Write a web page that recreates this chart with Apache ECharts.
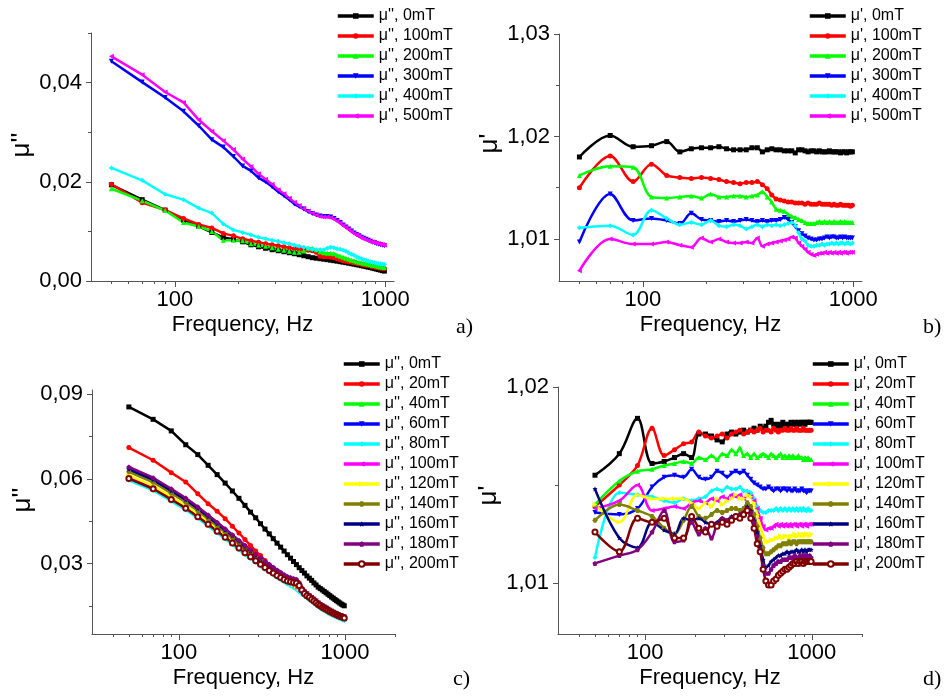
<!DOCTYPE html>
<html>
<head>
<meta charset="utf-8">
<script src="https://cdn.jsdelivr.net/npm/echarts@6/dist/echarts.min.js"></script>
<style>
  html, body { margin: 0; padding: 0; background: #fff; }
  #chart { width: 950px; height: 696px; }
</style>
</head>
<body>
<div id="chart"></div>
<script>
// Measurement frequencies, Hz
const freq = [50,70,90,110,130,150,170,190,210,230,250,270,290,310,330,350,370,390,410,430,450,470,490,510,530,550,570,590,610,630,650,670,690,710,730,750,770,790,810,830,850,870,890,910,930,950,970,990];

// Tick values
const xMajor = [100, 1000];
const xMinorAB = [50,60,70,80,90,200,300,400,500,600,700,800,900];
const xMinorCD = [40,50,60,70,80,90,200,300,400,500,600,700,800,900,2000];
const yMajorA = [0, 0.02, 0.04];      const yMinorA = [0.01, 0.03, 0.05];
const yMajorB = [1.01, 1.02, 1.03];   const yMinorB = [1.015, 1.025];
const yMajorC = [0.03, 0.06, 0.09];   const yMinorC = [0.015, 0.045, 0.075];
const yMajorD = [1.01, 1.02];         const yMinorD = [1.015];

// (a) imaginary part, 0–500 mT
const a0   = [0.0194,0.0164,0.0143,0.0123,0.0110,0.0098,0.0088,0.0084,0.0079,0.0073,0.0069,0.0066,0.0063,0.0061,0.0059,0.0057,0.0055,0.0053,0.0051,0.0049,0.0047,0.0046,0.0045,0.0044,0.0043,0.0042,0.0041,0.0040,0.0039,0.0038,0.0037,0.0036,0.0035,0.0034,0.0033,0.0032,0.0031,0.0030,0.0029,0.0028,0.0027,0.0026,0.0025,0.0024,0.0023,0.0022,0.0021,0.0020];
const a100 = [0.0195,0.0158,0.0143,0.0126,0.0114,0.0107,0.0096,0.0091,0.0085,0.0081,0.0078,0.0075,0.0073,0.0071,0.0069,0.0067,0.0065,0.0064,0.0063,0.0062,0.0061,0.0058,0.0050,0.0049,0.0049,0.0048,0.0047,0.0045,0.0043,0.0041,0.0040,0.0039,0.0038,0.0037,0.0036,0.0035,0.0034,0.0033,0.0032,0.0031,0.0030,0.0029,0.0028,0.0027,0.0026,0.0026,0.0025,0.0025];
const a200 = [0.0186,0.0162,0.0142,0.0118,0.0110,0.0100,0.0082,0.0082,0.0081,0.0075,0.0072,0.0070,0.0067,0.0064,0.0062,0.0060,0.0058,0.0058,0.0061,0.0066,0.0066,0.0063,0.0059,0.0057,0.0056,0.0056,0.0055,0.0052,0.0050,0.0048,0.0046,0.0044,0.0042,0.0041,0.0039,0.0038,0.0037,0.0036,0.0035,0.0034,0.0033,0.0032,0.0031,0.0030,0.0029,0.0028,0.0028,0.0027];
const a300 = [0.0443,0.0401,0.0370,0.0342,0.0313,0.0285,0.0270,0.0251,0.0232,0.0222,0.0208,0.0200,0.0190,0.0180,0.0172,0.0164,0.0155,0.0150,0.0145,0.0140,0.0136,0.0133,0.0131,0.0130,0.0130,0.0129,0.0126,0.0122,0.0118,0.0113,0.0109,0.0105,0.0101,0.0097,0.0094,0.0091,0.0088,0.0086,0.0084,0.0082,0.0080,0.0078,0.0077,0.0075,0.0074,0.0073,0.0072,0.0071];
const a400 = [0.0228,0.0203,0.0175,0.0164,0.0147,0.0137,0.0115,0.0103,0.0098,0.0093,0.0088,0.0085,0.0082,0.0080,0.0077,0.0075,0.0072,0.0070,0.0068,0.0066,0.0064,0.0063,0.0063,0.0063,0.0066,0.0068,0.0067,0.0065,0.0064,0.0062,0.0060,0.0057,0.0054,0.0052,0.0049,0.0047,0.0045,0.0043,0.0042,0.0040,0.0039,0.0038,0.0037,0.0036,0.0035,0.0035,0.0034,0.0034];
const a500 = [0.0453,0.0416,0.0381,0.0360,0.0325,0.0302,0.0283,0.0265,0.0246,0.0231,0.0216,0.0205,0.0195,0.0184,0.0176,0.0167,0.0159,0.0152,0.0146,0.0141,0.0137,0.0133,0.0130,0.0129,0.0129,0.0128,0.0125,0.0121,0.0117,0.0112,0.0108,0.0104,0.0100,0.0096,0.0093,0.0090,0.0087,0.0085,0.0083,0.0081,0.0079,0.0078,0.0077,0.0076,0.0075,0.0074,0.0073,0.0072];

// (b) real part, 0–500 mT
const b0   = [1.0180,1.0201,1.0190,1.0191,1.0195,1.0185,1.0188,1.0189,1.0189,1.0190,1.0188,1.0187,1.0187,1.0187,1.0189,1.0189,1.0185,1.0187,1.0188,1.0187,1.0187,1.0186,1.0186,1.0186,1.0184,1.0187,1.0187,1.0186,1.0185,1.0186,1.0186,1.0185,1.0186,1.0185,1.0185,1.0185,1.0186,1.0185,1.0185,1.0185,1.0185,1.0184,1.0185,1.0185,1.0184,1.0185,1.0185,1.0185];
const b100 = [1.0150,1.0181,1.0156,1.0173,1.0162,1.0160,1.0159,1.0160,1.0159,1.0158,1.0156,1.0155,1.0154,1.0155,1.0155,1.0156,1.0153,1.0149,1.0143,1.0139,1.0138,1.0137,1.0136,1.0136,1.0135,1.0135,1.0135,1.0134,1.0135,1.0134,1.0134,1.0134,1.0135,1.0134,1.0134,1.0134,1.0134,1.0133,1.0134,1.0133,1.0133,1.0134,1.0133,1.0133,1.0133,1.0133,1.0132,1.0133];
const b200 = [1.0162,1.0171,1.0170,1.0141,1.0140,1.0141,1.0142,1.0140,1.0144,1.0141,1.0141,1.0142,1.0142,1.0141,1.0142,1.0143,1.0146,1.0141,1.0136,1.0129,1.0128,1.0127,1.0124,1.0122,1.0121,1.0119,1.0118,1.0116,1.0115,1.0115,1.0115,1.0116,1.0117,1.0116,1.0117,1.0116,1.0117,1.0116,1.0117,1.0116,1.0116,1.0117,1.0116,1.0117,1.0116,1.0116,1.0116,1.0116];
const b300 = [1.0097,1.0144,1.0118,1.0120,1.0118,1.0115,1.0125,1.0119,1.0118,1.0117,1.0118,1.0117,1.0118,1.0119,1.0118,1.0117,1.0118,1.0117,1.0118,1.0118,1.0119,1.0121,1.0119,1.0116,1.0112,1.0108,1.0105,1.0103,1.0101,1.0100,1.0099,1.0099,1.0100,1.0100,1.0101,1.0102,1.0101,1.0102,1.0102,1.0101,1.0101,1.0102,1.0101,1.0102,1.0101,1.0101,1.0101,1.0101];
const b400 = [1.0111,1.0113,1.0104,1.0128,1.0120,1.0114,1.0116,1.0114,1.0118,1.0113,1.0112,1.0114,1.0113,1.0110,1.0112,1.0114,1.0112,1.0114,1.0113,1.0114,1.0113,1.0114,1.0115,1.0116,1.0113,1.0106,1.0100,1.0098,1.0094,1.0093,1.0093,1.0094,1.0094,1.0095,1.0094,1.0095,1.0095,1.0096,1.0095,1.0096,1.0095,1.0096,1.0096,1.0095,1.0096,1.0096,1.0095,1.0096];
const b500 = [1.0069,1.0100,1.0095,1.0095,1.0097,1.0094,1.0092,1.0101,1.0097,1.0100,1.0097,1.0096,1.0096,1.0097,1.0096,1.0101,1.0093,1.0095,1.0096,1.0097,1.0098,1.0099,1.0100,1.0102,1.0101,1.0096,1.0093,1.0090,1.0087,1.0085,1.0084,1.0085,1.0086,1.0086,1.0087,1.0086,1.0087,1.0086,1.0087,1.0086,1.0087,1.0086,1.0087,1.0087,1.0086,1.0087,1.0087,1.0087];

// (c) imaginary part, 0–200 mT
const c0   = [0.0855,0.0811,0.0770,0.0721,0.0686,0.0648,0.0615,0.0585,0.0557,0.0531,0.0506,0.0482,0.0462,0.0441,0.0422,0.0405,0.0388,0.0372,0.0358,0.0344,0.0331,0.0319,0.0307,0.0296,0.0285,0.0275,0.0266,0.0256,0.0248,0.0240,0.0231,0.0224,0.0216,0.0211,0.0206,0.0201,0.0196,0.0191,0.0186,0.0181,0.0177,0.0172,0.0168,0.0164,0.0160,0.0156,0.0153,0.0150];
const c20  = [0.0711,0.0666,0.0622,0.0589,0.0547,0.0512,0.0485,0.0459,0.0432,0.0408,0.0385,0.0364,0.0344,0.0328,0.0311,0.0295,0.0281,0.0267,0.0256,0.0248,0.0241,0.0234,0.0227,0.0220,0.0212,0.0204,0.0197,0.0190,0.0183,0.0176,0.0170,0.0164,0.0158,0.0153,0.0148,0.0144,0.0140,0.0136,0.0132,0.0129,0.0126,0.0123,0.0120,0.0117,0.0115,0.0113,0.0111,0.0109];
const c40  = [0.0632,0.0594,0.0556,0.0523,0.0493,0.0464,0.0439,0.0416,0.0396,0.0376,0.0358,0.0343,0.0328,0.0315,0.0302,0.0291,0.0281,0.0271,0.0263,0.0255,0.0247,0.0240,0.0233,0.0225,0.0217,0.0209,0.0202,0.0194,0.0187,0.0180,0.0174,0.0168,0.0162,0.0156,0.0151,0.0147,0.0143,0.0139,0.0135,0.0132,0.0129,0.0125,0.0122,0.0120,0.0117,0.0115,0.0113,0.0111];
const c60  = [0.0628,0.0591,0.0552,0.0520,0.0489,0.0461,0.0436,0.0413,0.0393,0.0374,0.0356,0.0341,0.0326,0.0313,0.0301,0.0289,0.0279,0.0270,0.0262,0.0253,0.0246,0.0239,0.0231,0.0224,0.0216,0.0208,0.0200,0.0193,0.0186,0.0179,0.0173,0.0167,0.0160,0.0155,0.0150,0.0146,0.0142,0.0138,0.0134,0.0131,0.0127,0.0124,0.0121,0.0119,0.0116,0.0114,0.0112,0.0110];
const c80  = [0.0595,0.0559,0.0521,0.0490,0.0460,0.0433,0.0408,0.0387,0.0367,0.0348,0.0332,0.0317,0.0304,0.0291,0.0279,0.0268,0.0259,0.0250,0.0242,0.0234,0.0227,0.0220,0.0214,0.0207,0.0199,0.0191,0.0184,0.0177,0.0170,0.0164,0.0158,0.0152,0.0146,0.0141,0.0136,0.0132,0.0128,0.0124,0.0120,0.0117,0.0115,0.0112,0.0109,0.0107,0.0104,0.0102,0.0100,0.0098];
const c100 = [0.0605,0.0568,0.0530,0.0498,0.0469,0.0441,0.0416,0.0394,0.0374,0.0355,0.0339,0.0324,0.0310,0.0297,0.0285,0.0274,0.0264,0.0255,0.0248,0.0240,0.0233,0.0226,0.0219,0.0212,0.0204,0.0196,0.0189,0.0182,0.0176,0.0169,0.0163,0.0157,0.0151,0.0146,0.0141,0.0137,0.0133,0.0129,0.0125,0.0123,0.0120,0.0117,0.0114,0.0112,0.0109,0.0107,0.0105,0.0103];
const c120 = [0.0612,0.0575,0.0537,0.0505,0.0475,0.0447,0.0422,0.0401,0.0381,0.0362,0.0345,0.0330,0.0316,0.0303,0.0291,0.0280,0.0270,0.0261,0.0254,0.0246,0.0239,0.0232,0.0225,0.0218,0.0210,0.0202,0.0195,0.0188,0.0181,0.0174,0.0168,0.0162,0.0157,0.0152,0.0147,0.0143,0.0139,0.0135,0.0131,0.0128,0.0125,0.0122,0.0119,0.0117,0.0114,0.0112,0.0110,0.0108];
const c140 = [0.0625,0.0588,0.0549,0.0517,0.0487,0.0458,0.0433,0.0411,0.0390,0.0371,0.0354,0.0338,0.0324,0.0311,0.0299,0.0287,0.0277,0.0268,0.0260,0.0252,0.0245,0.0237,0.0230,0.0223,0.0215,0.0207,0.0199,0.0192,0.0185,0.0178,0.0172,0.0166,0.0160,0.0154,0.0149,0.0145,0.0141,0.0137,0.0133,0.0130,0.0127,0.0123,0.0120,0.0118,0.0115,0.0113,0.0111,0.0109];
const c160 = [0.0635,0.0597,0.0558,0.0526,0.0495,0.0466,0.0441,0.0418,0.0398,0.0378,0.0360,0.0345,0.0330,0.0317,0.0304,0.0293,0.0283,0.0274,0.0266,0.0258,0.0251,0.0247,0.0244,0.0241,0.0230,0.0212,0.0201,0.0193,0.0187,0.0180,0.0174,0.0168,0.0161,0.0156,0.0151,0.0147,0.0143,0.0139,0.0135,0.0131,0.0128,0.0125,0.0122,0.0120,0.0117,0.0115,0.0113,0.0111];
const c180 = [0.0642,0.0604,0.0565,0.0532,0.0501,0.0472,0.0446,0.0423,0.0402,0.0382,0.0365,0.0349,0.0334,0.0321,0.0308,0.0297,0.0287,0.0277,0.0269,0.0261,0.0254,0.0250,0.0247,0.0244,0.0233,0.0214,0.0202,0.0194,0.0188,0.0181,0.0175,0.0168,0.0162,0.0157,0.0152,0.0148,0.0144,0.0140,0.0136,0.0132,0.0129,0.0126,0.0123,0.0121,0.0118,0.0116,0.0114,0.0112];
const c200 = [0.0601,0.0565,0.0527,0.0496,0.0466,0.0439,0.0414,0.0393,0.0373,0.0355,0.0338,0.0324,0.0310,0.0297,0.0286,0.0275,0.0266,0.0257,0.0250,0.0243,0.0238,0.0235,0.0233,0.0231,0.0222,0.0206,0.0194,0.0186,0.0180,0.0173,0.0167,0.0161,0.0155,0.0150,0.0145,0.0141,0.0138,0.0134,0.0130,0.0127,0.0124,0.0121,0.0118,0.0116,0.0113,0.0111,0.0109,0.0107];

// (d) real part, 0–200 mT
const d0   = [1.0155,1.0166,1.0184,1.0161,1.0162,1.0164,1.0166,1.0164,1.0176,1.0176,1.0175,1.0173,1.0172,1.0176,1.0177,1.0176,1.0177,1.0178,1.0177,1.0178,1.0179,1.0178,1.0180,1.0179,1.0180,1.0182,1.0183,1.0181,1.0180,1.0181,1.0180,1.0182,1.0181,1.0180,1.0181,1.0182,1.0181,1.0182,1.0181,1.0182,1.0181,1.0182,1.0182,1.0181,1.0182,1.0182,1.0182,1.0182];
const d20  = [1.0139,1.0150,1.0160,1.0179,1.0165,1.0168,1.0171,1.0172,1.0177,1.0175,1.0174,1.0175,1.0176,1.0174,1.0176,1.0177,1.0178,1.0176,1.0177,1.0178,1.0177,1.0178,1.0179,1.0177,1.0178,1.0178,1.0177,1.0179,1.0178,1.0177,1.0178,1.0178,1.0179,1.0178,1.0178,1.0179,1.0178,1.0178,1.0179,1.0178,1.0178,1.0178,1.0179,1.0178,1.0178,1.0178,1.0178,1.0178];
const d40  = [1.0140,1.0152,1.0157,1.0158,1.0160,1.0161,1.0162,1.0161,1.0164,1.0163,1.0165,1.0163,1.0166,1.0165,1.0168,1.0166,1.0169,1.0165,1.0166,1.0164,1.0166,1.0164,1.0165,1.0166,1.0165,1.0164,1.0166,1.0165,1.0164,1.0165,1.0166,1.0164,1.0165,1.0164,1.0165,1.0164,1.0165,1.0164,1.0164,1.0165,1.0164,1.0164,1.0163,1.0164,1.0163,1.0164,1.0163,1.0163];
const d60  = [1.0136,1.0135,1.0138,1.0149,1.0154,1.0155,1.0154,1.0158,1.0154,1.0153,1.0154,1.0157,1.0156,1.0154,1.0156,1.0157,1.0156,1.0157,1.0155,1.0153,1.0151,1.0150,1.0149,1.0148,1.0148,1.0149,1.0148,1.0147,1.0148,1.0148,1.0147,1.0148,1.0148,1.0147,1.0148,1.0147,1.0147,1.0148,1.0147,1.0147,1.0147,1.0148,1.0147,1.0147,1.0146,1.0147,1.0147,1.0147];
const d80  = [1.0113,1.0146,1.0145,1.0144,1.0142,1.0141,1.0143,1.0142,1.0143,1.0144,1.0147,1.0148,1.0147,1.0149,1.0148,1.0148,1.0149,1.0147,1.0147,1.0146,1.0143,1.0139,1.0137,1.0136,1.0136,1.0137,1.0137,1.0137,1.0138,1.0137,1.0138,1.0137,1.0138,1.0137,1.0138,1.0137,1.0138,1.0137,1.0138,1.0137,1.0138,1.0137,1.0138,1.0137,1.0137,1.0138,1.0137,1.0137];
const d100 = [1.0138,1.0142,1.0150,1.0137,1.0138,1.0139,1.0138,1.0141,1.0142,1.0141,1.0143,1.0142,1.0144,1.0143,1.0145,1.0144,1.0145,1.0143,1.0145,1.0144,1.0142,1.0138,1.0133,1.0129,1.0127,1.0128,1.0128,1.0129,1.0130,1.0129,1.0130,1.0129,1.0130,1.0129,1.0130,1.0129,1.0130,1.0130,1.0129,1.0130,1.0130,1.0129,1.0130,1.0130,1.0129,1.0130,1.0130,1.0130];
const d120 = [1.0140,1.0131,1.0145,1.0143,1.0143,1.0143,1.0143,1.0141,1.0138,1.0141,1.0139,1.0143,1.0140,1.0142,1.0143,1.0145,1.0143,1.0143,1.0145,1.0144,1.0141,1.0135,1.0129,1.0124,1.0121,1.0121,1.0122,1.0122,1.0123,1.0123,1.0124,1.0123,1.0124,1.0124,1.0123,1.0124,1.0124,1.0125,1.0124,1.0124,1.0125,1.0124,1.0125,1.0124,1.0125,1.0125,1.0124,1.0125];
const d140 = [1.0132,1.0140,1.0137,1.0134,1.0128,1.0125,1.0132,1.0139,1.0134,1.0133,1.0135,1.0137,1.0136,1.0137,1.0138,1.0138,1.0137,1.0138,1.0141,1.0139,1.0135,1.0129,1.0123,1.0118,1.0115,1.0115,1.0116,1.0117,1.0118,1.0119,1.0119,1.0120,1.0120,1.0120,1.0121,1.0120,1.0121,1.0121,1.0120,1.0121,1.0121,1.0121,1.0121,1.0121,1.0121,1.0121,1.0121,1.0121];
const d160 = [1.0148,1.0123,1.0118,1.0131,1.0127,1.0125,1.0133,1.0132,1.0133,1.0131,1.0130,1.0131,1.0133,1.0132,1.0134,1.0134,1.0135,1.0136,1.0139,1.0137,1.0132,1.0126,1.0119,1.0112,1.0108,1.0109,1.0111,1.0112,1.0113,1.0114,1.0114,1.0115,1.0115,1.0116,1.0115,1.0116,1.0116,1.0116,1.0117,1.0116,1.0116,1.0117,1.0116,1.0117,1.0116,1.0117,1.0117,1.0117];
const d180 = [1.0110,1.0114,1.0117,1.0126,1.0137,1.0121,1.0122,1.0131,1.0125,1.0128,1.0123,1.0130,1.0133,1.0132,1.0133,1.0134,1.0135,1.0136,1.0138,1.0136,1.0131,1.0124,1.0117,1.0109,1.0105,1.0105,1.0107,1.0109,1.0110,1.0111,1.0111,1.0112,1.0112,1.0112,1.0113,1.0113,1.0113,1.0114,1.0113,1.0113,1.0114,1.0113,1.0114,1.0113,1.0114,1.0113,1.0114,1.0113];
const d200 = [1.0126,1.0116,1.0133,1.0131,1.0133,1.0123,1.0123,1.0134,1.0128,1.0126,1.0130,1.0129,1.0131,1.0130,1.0132,1.0134,1.0133,1.0135,1.0137,1.0133,1.0128,1.0120,1.0116,1.0107,1.0101,1.0099,1.0099,1.0101,1.0102,1.0104,1.0105,1.0106,1.0107,1.0107,1.0108,1.0109,1.0110,1.0110,1.0111,1.0110,1.0111,1.0111,1.0110,1.0111,1.0111,1.0111,1.0111,1.0111];

const FONT = '"Liberation Sans", Arial, sans-serif';
const SERIF = '"Liberation Serif", "DejaVu Serif", serif';
const AXIS = '#555';

const SYM = {
  square: 'rect',
  circle: 'circle',
  up: 'triangle',
  down: 'path://M-10,-8L10,-8L0,9Z',
  diamond: 'diamond',
  left: 'path://M-9,0L8,-10L8,10Z',
  right: 'path://M9,0L-8,-10L-8,10Z',
  hex: 'path://M-5,-8.7L5,-8.7L10,0L5,8.7L-5,8.7L-10,0Z',
  star: 'path://M0,-10L2.9,-4L9.5,-3.1L4.7,1.5L5.9,8.1L0,5L-5.9,8.1L-4.7,1.5L-9.5,-3.1L-2.9,-4Z',
  pent: 'path://M0,-10L9.5,-3.1L5.9,8.1L-5.9,8.1L-9.5,-3.1Z',
  ring: 'emptyCircle'
};

const comma = v => v.toFixed(2).replace('.', ',');

function xAxes(gi, min, max, minor) {
  return [{
    type: 'log', logBase: 10, gridIndex: gi, min: min, max: max, position: 'bottom',
    axisLine: { show: true, onZero: false, lineStyle: { color: AXIS, width: 1 } },
    axisTick: { show: true, length: 6, customValues: xMajor, lineStyle: { color: AXIS } },
    axisLabel: { customValues: xMajor, formatter: v => String(Math.round(v)), color: '#000', fontSize: 22, fontFamily: FONT, margin: 8 },
    splitLine: { show: false },
    name: 'Frequency, Hz', nameLocation: 'middle', nameGap: 33,
    nameTextStyle: { fontSize: 22, color: '#000', fontFamily: FONT }
  }, {
    type: 'log', logBase: 10, gridIndex: gi, min: min, max: max, position: 'bottom',
    axisLine: { show: false },
    axisTick: { show: true, length: 3, customValues: minor, lineStyle: { color: AXIS } },
    axisLabel: { show: false },
    splitLine: { show: false }
  }];
}

function yAxes(gi, min, max, major, minor, name, gap, pad) {
  return [{
    type: 'value', gridIndex: gi, min: min, max: max, position: 'left',
    axisLine: { show: true, onZero: false, lineStyle: { color: AXIS, width: 1 } },
    axisTick: { show: true, length: 5, customValues: major, lineStyle: { color: AXIS } },
    axisLabel: { customValues: major, formatter: comma, color: '#000', fontSize: 22, fontFamily: FONT, margin: 9 },
    splitLine: { show: false },
    name: name, nameLocation: 'middle', nameGap: gap, nameRotate: 90,
    nameTextStyle: { fontSize: 26, color: '#000', fontFamily: FONT, padding: [0, 0, 0, pad] }
  }, {
    type: 'value', gridIndex: gi, min: min, max: max, position: 'left',
    axisLine: { show: false },
    axisTick: { show: true, length: 3, customValues: minor, lineStyle: { color: AXIS } },
    axisLabel: { show: false },
    splitLine: { show: false }
  }];
}

function curve(panel, label, values, color, symbol, extra) {
  const gi = 'abcd'.indexOf(panel);
  const s = {
    type: 'line',
    name: panel + ' ' + label,
    xAxisIndex: gi * 2,
    yAxisIndex: gi * 2,
    data: freq.map((f, i) => [f, values[i]]),
    symbol: SYM[symbol],
    symbolSize: 5,
    showSymbol: true,
    smooth: (panel === 'b' || panel === 'd') ? 0.35 : false,
    lineStyle: { color: color, width: 2.5 },
    itemStyle: { color: color },
    emphasis: { disabled: true },
    animation: false
  };
  return Object.assign(s, extra || {});
}

const ringStyle = { itemStyle: { color: '#800000', borderWidth: 1 } };

const series = [
  curve('a', "μ'', 0mT",   a0,   '#000000', 'square'),
  curve('a', "μ'', 100mT", a100, '#ff0000', 'circle'),
  curve('a', "μ'', 200mT", a200, '#00ff00', 'up'),
  curve('a', "μ'', 300mT", a300, '#0000ff', 'down'),
  curve('a', "μ'', 400mT", a400, '#00ffff', 'diamond'),
  curve('a', "μ'', 500mT", a500, '#ff00ff', 'left'),

  curve('b', "μ', 0mT",   b0,   '#000000', 'square'),
  curve('b', "μ', 100mT", b100, '#ff0000', 'circle'),
  curve('b', "μ', 200mT", b200, '#00ff00', 'up'),
  curve('b', "μ', 300mT", b300, '#0000ff', 'down'),
  curve('b', "μ', 400mT", b400, '#00ffff', 'diamond'),
  curve('b', "μ', 500mT", b500, '#ff00ff', 'left'),

  curve('c', "μ'', 0mT",   c0,   '#000000', 'square'),
  curve('c', "μ'', 20mT",  c20,  '#ff0000', 'circle'),
  curve('c', "μ'', 40mT",  c40,  '#00ff00', 'up'),
  curve('c', "μ'', 60mT",  c60,  '#0000ff', 'down'),
  curve('c', "μ'', 80mT",  c80,  '#00ffff', 'diamond'),
  curve('c', "μ'', 100mT", c100, '#ff00ff', 'left'),
  curve('c', "μ'', 120mT", c120, '#ffff00', 'right'),
  curve('c', "μ'', 140mT", c140, '#808000', 'hex'),
  curve('c', "μ'', 160mT", c160, '#000080', 'star'),
  curve('c', "μ'', 180mT", c180, '#800080', 'pent'),
  curve('c', "μ'', 200mT", c200, '#800000', 'ring', ringStyle),

  curve('d', "μ', 0mT",   d0,   '#000000', 'square'),
  curve('d', "μ', 20mT",  d20,  '#ff0000', 'circle'),
  curve('d', "μ', 40mT",  d40,  '#00ff00', 'up'),
  curve('d', "μ', 60mT",  d60,  '#0000ff', 'down'),
  curve('d', "μ', 80mT",  d80,  '#00ffff', 'diamond'),
  curve('d', "μ', 100mT", d100, '#ff00ff', 'left'),
  curve('d', "μ', 120mT", d120, '#ffff00', 'right'),
  curve('d', "μ', 140mT", d140, '#808000', 'hex'),
  curve('d', "μ', 160mT", d160, '#000080', 'star'),
  curve('d', "μ', 180mT", d180, '#800080', 'pent'),
  curve('d', "μ', 200mT", d200, '#800000', 'ring', ringStyle)
];

function legendFor(panel, left, top) {
  return {
    orient: 'vertical', left: left, top: top, padding: 0,
    itemWidth: 36, itemHeight: 7, itemGap: 0,
    selectedMode: false,
    lineStyle: { width: 3.5 },
    textStyle: { fontSize: 16, lineHeight: 20, color: '#000', fontFamily: FONT },
    formatter: n => n.slice(2),
    data: series.filter(s => s.name[0] === panel).map(s => s.name)
  };
}

const option = {
  backgroundColor: '#ffffff',
  animation: false,
  grid: [
    { left: 91,  top: 33,  width: 303, height: 248 },
    { left: 559, top: 34,  width: 303, height: 247 },
    { left: 92,  top: 390, width: 303, height: 244 },
    { left: 558, top: 387, width: 304, height: 247 }
  ],
  xAxis: [].concat(
    xAxes(0, 40, 1100, xMinorAB),
    xAxes(1, 40, 1100, xMinorAB),
    xAxes(2, 30, 2000, xMinorCD),
    xAxes(3, 30, 2000, xMinorCD)
  ),
  yAxis: [].concat(
    yAxes(0, 0, 0.05, yMajorA, yMinorA, "μ''", 50, 24),
    yAxes(1, 1.0059, 1.03, yMajorB, yMinorB, "μ'", 34, 28),
    yAxes(2, 0.005, 0.0915, yMajorC, yMinorC, "μ''", 41, 24),
    yAxes(3, 1.0074, 1.02, yMajorD, yMinorD, "μ'", 47, 30)
  ),
  legend: [
    legendFor('a', 336, 6),
    legendFor('b', 808, 6),
    legendFor('c', 342, 354),
    legendFor('d', 811, 354)
  ],
  graphic: [
    { type: 'text', left: 456, top: 316, style: { text: 'a)', font: '22px ' + SERIF, fill: '#000' } },
    { type: 'text', left: 923, top: 316, style: { text: 'b)', font: '22px ' + SERIF, fill: '#000' } },
    { type: 'text', left: 453, top: 668, style: { text: 'c)', font: '22px ' + SERIF, fill: '#000' } },
    { type: 'text', left: 923, top: 668, style: { text: 'd)', font: '22px ' + SERIF, fill: '#000' } }
  ],
  series: series
};

const chart = echarts.init(document.getElementById('chart'), null, { renderer: 'canvas' });
chart.setOption(option);
</script>
</body>
</html>
